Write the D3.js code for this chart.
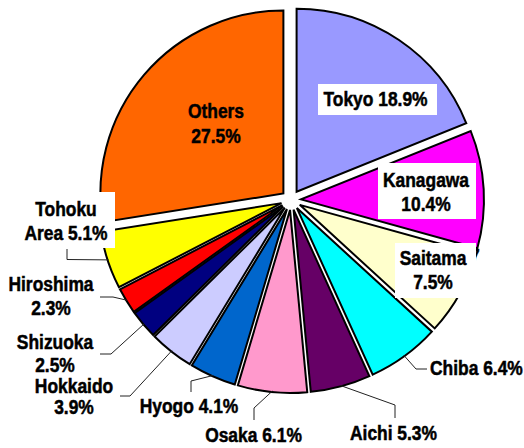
<!DOCTYPE html>
<html>
<head>
<meta charset="utf-8">
<script src="https://cdn.jsdelivr.net/npm/d3@7"></script>
<style>
  html, body { margin: 0; padding: 0; background: #fff; }
  svg { display: block; }
</style>
</head>
<body>
<div id="chart"></div>
<script>
// shares by prefecture, clockwise from 12 o'clock
const categories = ["Tokyo", "Kanagawa", "Saitama", "Chiba", "Aichi", "Osaka",
  "Hyogo", "Hokkaido", "Shizuoka", "Hiroshima", "Tohoku Area", "Others"];
const shares = [18.9, 10.4, 7.5, 6.4, 5.3, 6.1, 4.1, 3.9, 2.5, 2.3, 5.1, 27.5];
const colors = ["#9999FF", "#FF00FF", "#FFFFCC", "#00FFFF", "#660066", "#FF99CC",
  "#0066CC", "#CCCCFF", "#000080", "#FF0000", "#FFFF00", "#FF6600"];

// label placement (words on first line, position, optional white box, leader elbow)
const labelLayout = [
  { wrap: 0, x: 375.5, y: 106, box: [318, 84, 437, 115] },
  { wrap: 1, x: 426, y: 187, box: [378, 163, 476, 219] },
  { wrap: 1, x: 433, y: 265, box: [395, 243, 476, 298] },
  { wrap: 0, x: 430, y: 375, anchor: "start", leader: [[427, 369], [416, 369]] },
  { wrap: 0, x: 393.5, y: 440, leader: [[395, 418], [395, 405]] },
  { wrap: 0, x: 253.5, y: 442, leader: [[254, 420], [254, 408]] },
  { wrap: 0, x: 189, y: 413, leader: [[191, 392], [191, 381]] },
  { wrap: 1, x: 74, y: 393, lh: 21, leader: [[120, 396], [130, 396]] },
  { wrap: 1, x: 55, y: 349, lh: 23, leader: [[100, 354], [111, 354]] },
  { wrap: 1, x: 51, y: 291, leader: [[100, 297], [113, 297]] },
  { wrap: 1, x: 66, y: 216, box: [18, 192, 115, 248], leader: [[67, 249], [67, 259.5]] },
  { wrap: 1, x: 216, y: 118, lh: 25 }
];

const width = 524, height = 448;
const cx = 291, cy = 200, R = 183, explode = 10;

const svg = d3.select("#chart").append("svg")
  .attr("width", width)
  .attr("height", height);

const pie = d3.pie().sort(null).value(d => d);
const arcs = pie(shares);
const arc = d3.arc().innerRadius(0).outerRadius(R);

const mid = a => (a.startAngle + a.endAngle) / 2;

// slices, each pushed out along its bisector
svg.append("g")
  .attr("transform", `translate(${cx},${cy})`)
  .selectAll("path")
  .data(arcs)
  .enter().append("path")
  .attr("d", arc)
  .attr("transform", a => `translate(${explode * Math.sin(mid(a))},${-explode * Math.cos(mid(a))})`)
  .attr("fill", (a, i) => colors[i])
  .attr("stroke", "#000")
  .attr("stroke-width", 2)
  .attr("stroke-linejoin", "miter");

// leader lines
const line = d3.line();
arcs.forEach((a, i) => {
  const L = labelLayout[i];
  if (!L.leader) return;
  const m = mid(a);
  const edge = [cx + (R + explode - 1) * Math.sin(m), cy - (R + explode - 1) * Math.cos(m)];
  svg.append("path")
    .attr("d", line(L.leader.concat([edge])))
    .attr("fill", "none")
    .attr("stroke", "#222")
    .attr("stroke-width", 1);
});

const addText = (g, t, anchor) => g.append("text")
  .attr("text-anchor", anchor)
  .attr("font-family", "'Liberation Sans', Arial, sans-serif")
  .attr("font-weight", "bold")
  .attr("font-size", 20)
  .attr("fill", "#000")
  .attr("stroke", "#000")
  .attr("stroke-width", 0.5)
  .text(t);

// label boxes and text
arcs.forEach((a, i) => {
  const L = labelLayout[i];
  const words = `${categories[i]} ${shares[i].toFixed(1)}%`.split(" ");
  const lines = L.wrap ? [words.slice(0, L.wrap).join(" "), words.slice(L.wrap).join(" ")] : [words.join(" ")];
  if (L.box) {
    svg.append("rect")
      .attr("x", L.box[0]).attr("y", L.box[1])
      .attr("width", L.box[2] - L.box[0]).attr("height", L.box[3] - L.box[1])
      .attr("fill", "#fff");
  }
  const lh = L.lh || 24;
  lines.forEach((t, k) => {
    const g = svg.append("g")
      .attr("transform", `translate(${L.x},${L.y + k * lh}) scale(0.87,1)`);
    addText(g, t, L.anchor || "middle");
  });
});

// clipped leftover of the old one-line Saitama label at the box edge
svg.append("clipPath").attr("id", "stub")
  .append("rect").attr("x", 476).attr("y", 246).attr("width", 5).attr("height", 20);
const stub = svg.append("g").attr("clip-path", "url(#stub)")
  .append("g").attr("transform", "translate(470,263) scale(0.87,1)");
addText(stub, `${shares[2].toFixed(1)}`.charAt(0), "start");
</script>
</body>
</html>
